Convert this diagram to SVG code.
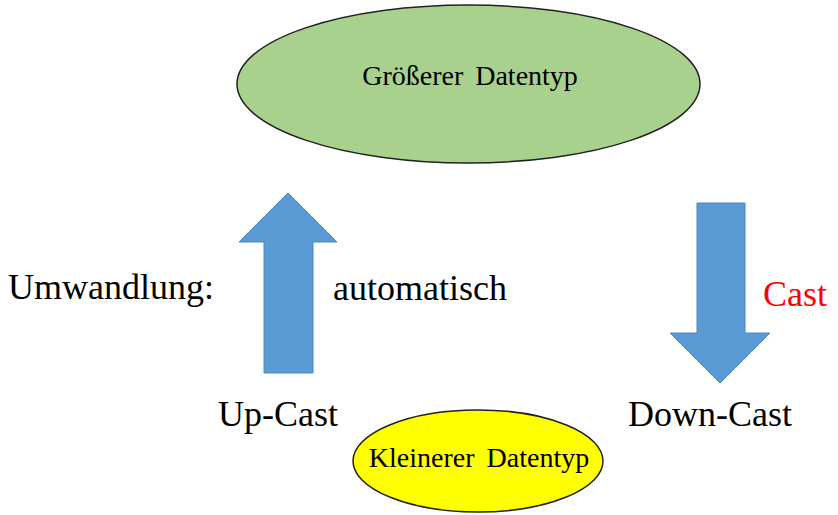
<svg xmlns="http://www.w3.org/2000/svg" width="838" height="515" viewBox="0 0 838 515">
<style>
text{font-family:"Liberation Serif","Times New Roman",serif;fill:#000}
.big{font-size:36px}
.node{font-size:28px;text-anchor:middle;word-spacing:5px}
.arrow{fill:#5B9BD5;stroke:#4F87BA;stroke-width:1}
</style>
<rect width="838" height="515" fill="#fff"/>
<g id="node-groesser">
<ellipse cx="468.5" cy="84" rx="231.5" ry="79" fill="#A9D18E" stroke="#222" stroke-width="1.5"/>
<text class="node" x="470" y="85">Größerer Datentyp</text>
</g>
<g id="node-kleiner">
<ellipse cx="478" cy="461" rx="125" ry="51" fill="#FFFF00" stroke="#222" stroke-width="1.5"/>
<text class="node" x="479" y="467">Kleinerer Datentyp</text>
</g>
<g id="connectors">
<polygon class="arrow" points="288,193 337,242 313,242 313,373 264,373 264,242 239,242"/>
<polygon class="arrow" points="697,203 745,203 745,333 770,333 720,383 670,333 697,333"/>
</g>
<g id="labels">
<text class="big" x="8" y="299">Umwandlung:</text>
<text class="big" x="333" y="300">automatisch</text>
<text class="big" x="763" y="306" style="fill:#FF0000">Cast</text>
<text class="big" x="218" y="426">Up-Cast</text>
<text class="big" x="628" y="426">Down-Cast</text>
</g>
</svg>
